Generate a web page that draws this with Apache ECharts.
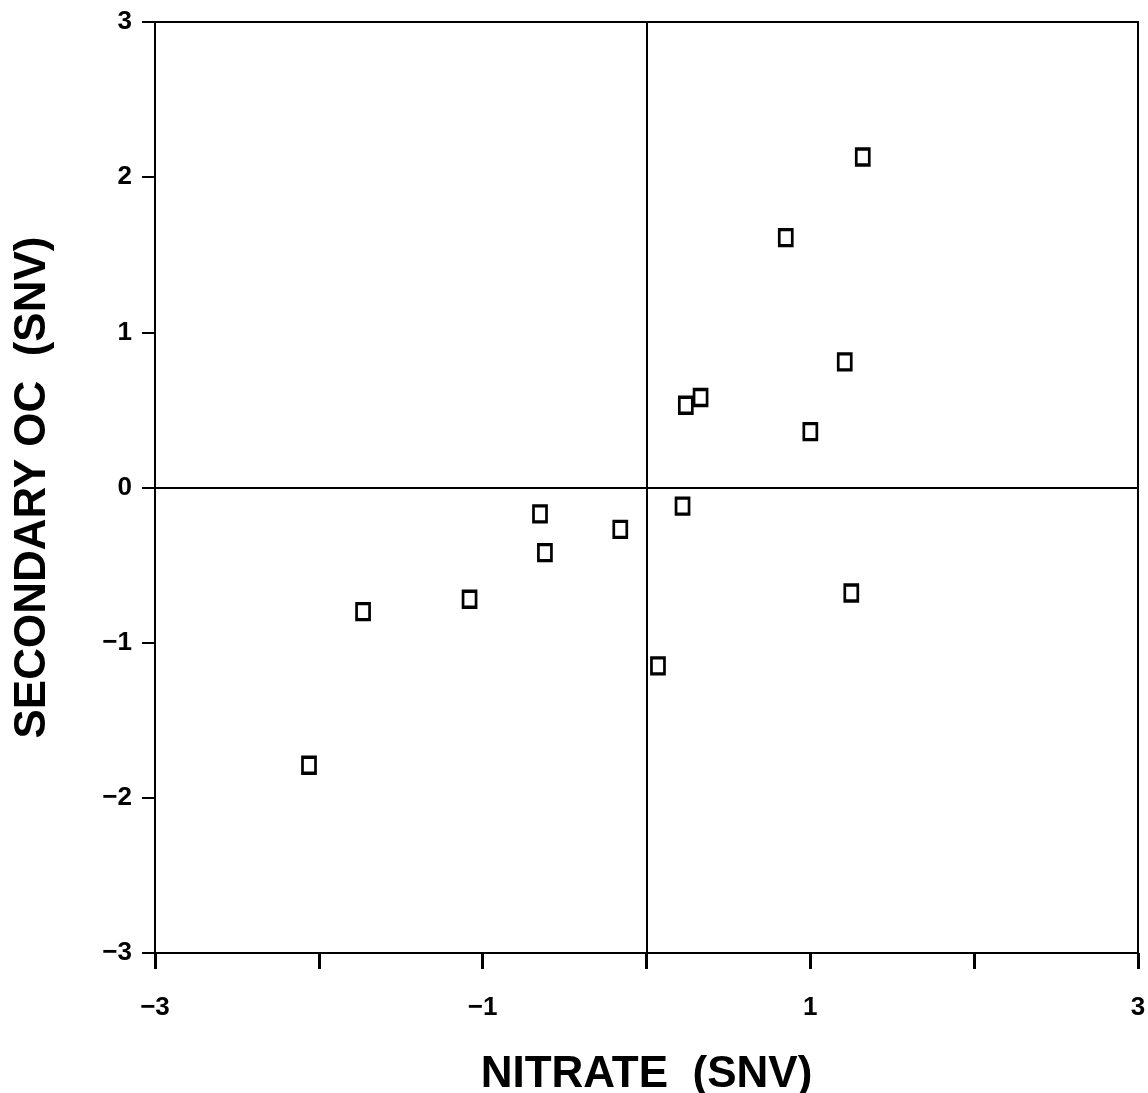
<!DOCTYPE html>
<html>
<head>
<meta charset="utf-8">
<script src="https://cdn.jsdelivr.net/npm/echarts@6/dist/echarts.min.js"></script>
<style>
html,body{margin:0;padding:0;background:#fff;}
#chart{width:1148px;height:1093px;}
</style>
</head>
<body>
<div id="chart"></div>
<script>
const nitrate = [1.32, 0.85, 1.21, 0.24, 0.33, 1.00, 0.22, 1.25, 0.07, -0.16, -0.65, -0.62, -1.08, -1.73, -2.06];
const secondaryOC = [2.13, 1.61, 0.81, 0.53, 0.58, 0.36, -0.12, -0.68, -1.15, -0.27, -0.17, -0.42, -0.72, -0.80, -1.79];
const xTickLabels = ['-3', '', '-1', '', '1', '', '3'];
const yTickLabels = ['-3', '-2', '-1', '0', '1', '2', '3'];

const points = nitrate.map((x, i) => [x, secondaryOC[i]]);
const font = '"Liberation Sans", Arial, sans-serif';
const toLabel = (arr) => (v) => {
  const idx = Math.round(v) + 3;
  const s = arr[idx] || '';
  return s.replace('-', '\u2212');
};

const chart = echarts.init(document.getElementById('chart'));
chart.setOption({
  backgroundColor: '#fff',
  animation: false,
  grid: {left: 155, right: 10, top: 22, bottom: 140, containLabel: false, outerBoundsMode: 'none',
         show: true, borderColor: '#000', borderWidth: 2, backgroundColor: 'transparent'},
  xAxis: {
    type: 'value', min: -3, max: 3, interval: 1,
    name: 'NITRATE  (SNV)', nameLocation: 'middle', nameGap: 100,
    nameTextStyle: {fontFamily: font, fontSize: 44, fontWeight: 'bold', color: '#000'},
    axisLine: {show: true, onZero: false, lineStyle: {color: '#000', width: 2}},
    axisTick: {show: true, length: 16, lineStyle: {color: '#000', width: 3}},
    axisLabel: {margin: 42, fontFamily: font, fontSize: 26, fontWeight: 'bold', color: '#000', formatter: toLabel(xTickLabels)},
    splitLine: {show: false}
  },
  yAxis: {
    type: 'value', min: -3, max: 3, interval: 1,
    name: 'SECONDARY OC  (SNV)', nameLocation: 'middle', nameGap: 100, nameRotate: 90,
    nameTextStyle: {fontFamily: font, fontSize: 44, fontWeight: 'bold', color: '#000'},
    axisLine: {show: true, onZero: false, lineStyle: {color: '#000', width: 2}},
    axisTick: {show: true, length: 13, lineStyle: {color: '#000', width: 2}},
    axisLabel: {margin: 23, fontFamily: font, fontSize: 26, fontWeight: 'bold', color: '#000', formatter: toLabel(yTickLabels)},
    splitLine: {show: false}
  },
  series: [{
    type: 'scatter',
    data: points,
    symbol: 'rect',
    symbolSize: [13, 16],
    itemStyle: {color: '#fff', borderColor: '#000', borderWidth: 3, opacity: 1},
    markLine: {
      silent: true,
      symbol: ['none', 'none'],
      label: {show: false},
      lineStyle: {color: '#000', width: 2, type: 'solid'},
      data: [{xAxis: 0}, {yAxis: 0}]
    },
    z: 5
  }]
});
</script>
</body>
</html>
